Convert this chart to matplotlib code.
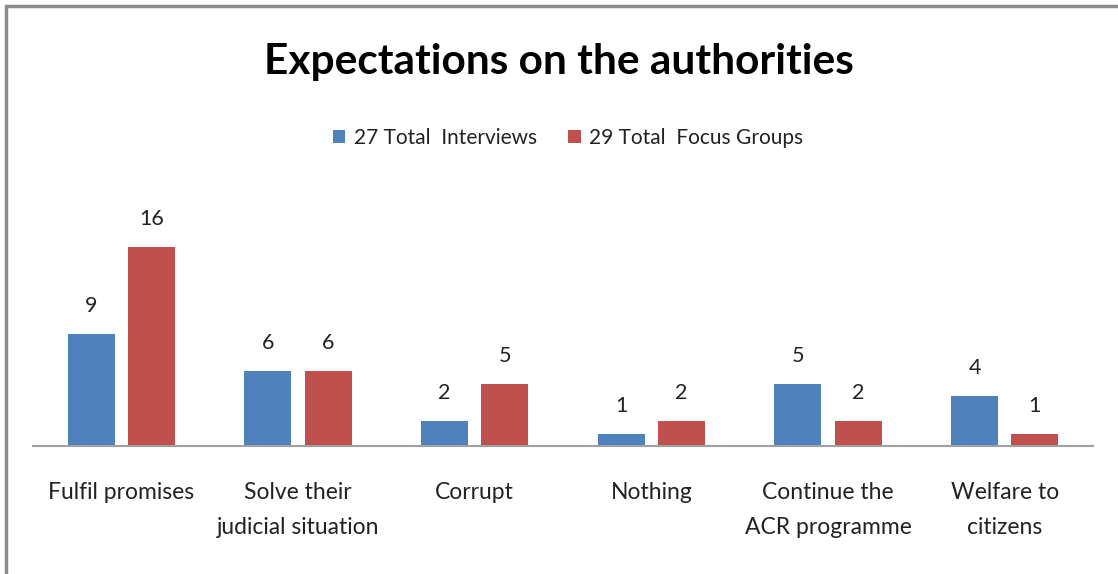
import matplotlib.pyplot as plt
from matplotlib.patches import Rectangle
import numpy as np

plt.rcParams['font.family'] = ['Lato', 'DejaVu Sans']

categorias = ["Fulfil promises", "Solve their\njudicial situation", "Corrupt",
              "Nothing", "Continue the\nACR programme", "Welfare to\ncitizens"]
entrevistas = [9, 6, 2, 1, 5, 4]
grupos_focales = [16, 6, 5, 2, 2, 1]
nombres_series = ["27 Total  Interviews", "29 Total  Focus Groups"]

azul = "#4F81BD"
rojo = "#C0504D"

fig = plt.figure(figsize=(11.18, 5.74), dpi=100)
ax = fig.add_axes([33/1118, 128/574, 1060/1118, 224/574])

x = np.arange(len(categorias))
ancho = 0.266
sep = 0.037
b1 = ax.bar(x - ancho/2 - sep, entrevistas, ancho, color=azul, label=nombres_series[0])
b2 = ax.bar(x + ancho/2 + sep, grupos_focales, ancho, color=rojo, label=nombres_series[1])

# etiquetas de valor encima de cada barra
for barras in (b1, b2):
    for b in barras:
        ax.text(b.get_x() + b.get_width()/2, b.get_height() + 2.25, str(int(b.get_height())),
                ha="center", va="center", fontsize=15.5, color="#222222")

ax.set_xlim(-0.5, len(categorias) - 0.5)
ax.set_ylim(0, 18)
ax.set_xticks(x)
ax.set_xticklabels(categorias, fontsize=16.5, color="#222222", linespacing=1.8)
ax.tick_params(axis="x", length=0, pad=26)
ax.set_yticks([])
for lado in ["top", "right", "left"]:
    ax.spines[lado].set_visible(False)
ax.spines["bottom"].set_color("#A0A0A0")
ax.spines["bottom"].set_linewidth(1.5)

fig.text(0.5, 1 - 62/574, "Expectations on the authorities", ha="center", va="center",
         fontsize=30.5, fontweight="bold")

fig.legend(loc="center", bbox_to_anchor=(0.508, 1 - 138/574), ncol=2, frameon=False,
           fontsize=15, handlelength=0.6, handleheight=0.6, handletextpad=0.4,
           columnspacing=1.5, labelcolor="#222222")

# borde gris del recuadro
fig.patches.append(Rectangle((6/1118, -0.1), 1.2, 1 - 6/574 + 0.1, transform=fig.transFigure,
                             fill=False, edgecolor="#8C8C8C", linewidth=2.5))

fig.savefig("out.png", dpi=100, facecolor="white")
